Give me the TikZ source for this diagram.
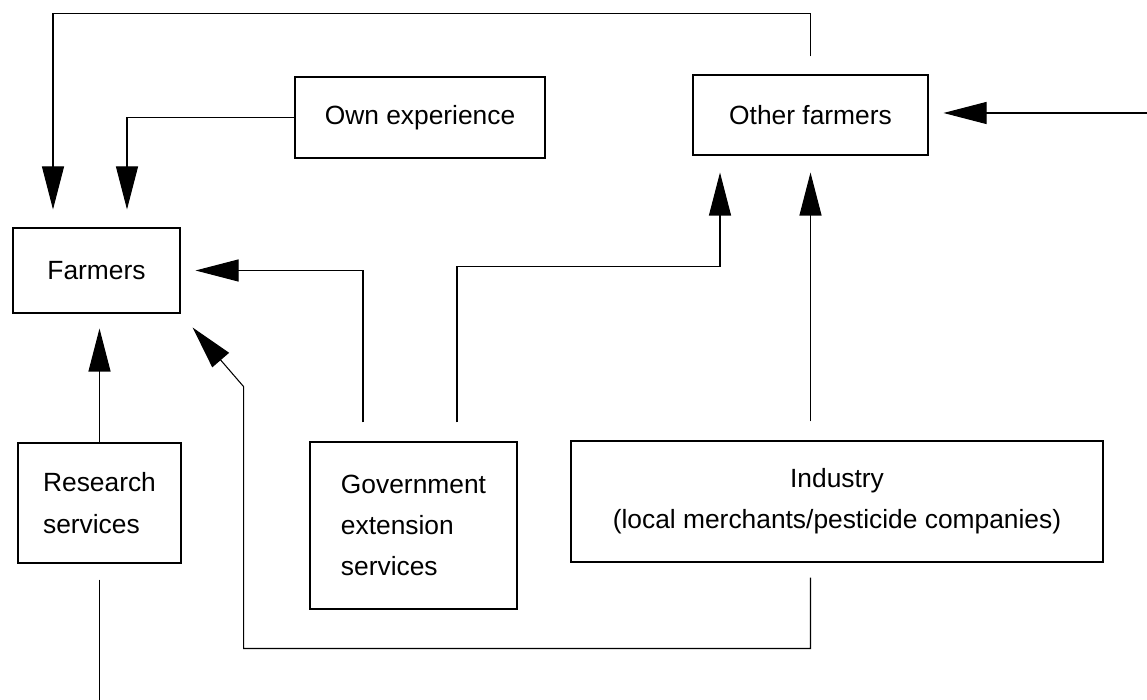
\documentclass[tikz,border=0pt]{standalone}
\usepackage{fontspec}
\setmainfont{Liberation Sans}
\usetikzlibrary{arrows.meta}

\begin{document}
\begin{tikzpicture}
  [line width=0.6pt,
   every node/.style={draw,rectangle,inner sep=0pt,font=\fontsize{15}{23.5}\selectfont},
   flow/.style={-{Triangle[length=0.86cm,width=0.44cm]}}]
  \useasboundingbox (0,0) rectangle (22.94,14);
  \node[minimum width=3.34cm,minimum height=1.70cm] (farmers) at (1.93,8.59) {Farmers};
  \node[minimum width=5.00cm,minimum height=1.62cm] (own) at (8.40,11.65) {Own experience};
  \node[minimum width=4.70cm,minimum height=1.60cm] (others) at (16.21,11.70) {Other farmers};
  \node[minimum width=3.26cm,minimum height=2.40cm,align=left] (research) at (1.99,3.94) {Research\\services};
  \node[minimum width=4.14cm,minimum height=3.34cm,align=left] (govt) at (8.27,3.49) {Government\\extension\\services};
  \node[minimum width=10.64cm,minimum height=2.42cm,align=center] (industry) at (16.74,3.97) {Industry\\(local merchants/pesticide companies)};
  \coordinate (market) at (22.94,11.74);
  \coordinate (exit) at (1.99,0);
  % into the farmers box
  \draw[flow,shorten <=0.36cm,shorten >=0.36cm] (others.north) -- ++(0,1.22) -| ([xshift=-0.87cm]farmers.north);
  \draw[flow,shorten >=0.36cm] (own.west) -| ([xshift=0.61cm]farmers.north);
  \draw[flow,shorten <=0.38cm,shorten >=0.30cm] ([xshift=-1.01cm]govt.north) |- (farmers.east);
  \draw[flow,shorten >=0.30cm] (research.north) -- (research.north |- farmers.south);
  \draw[flow,shorten <=0.30cm,shorten >=0.37cm] (industry.south -| others.south) -- ++(0,-1.72)
    -| ([xshift=1.26cm,yshift=-1.46cm]farmers.south east) -- (farmers.south east);
  % into the other farmers box
  \draw[flow,shorten <=0.38cm,shorten >=0.34cm] ([xshift=0.87cm]govt.north) -- ++(0,3.5) -| ([xshift=-1.81cm]others.south);
  \draw[flow,shorten <=0.38cm,shorten >=0.34cm] (industry.north -| others.south) -- (others.south);
  \draw[flow,shorten >=0.30cm] (market) -- (market -| others.east);
  % research leaves the picture
  \draw[shorten <=0.32cm] (research.south) -- (research.south |- exit);
\end{tikzpicture}
\end{document}
